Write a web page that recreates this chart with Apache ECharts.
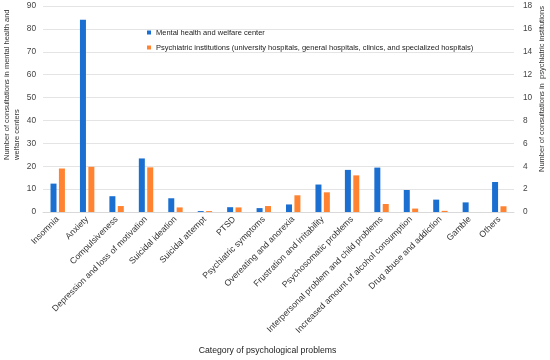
<!DOCTYPE html>
<html>
<head>
<meta charset="utf-8">
<script src="https://cdn.jsdelivr.net/npm/echarts@6/dist/echarts.min.js"></script>
<style>
html,body{margin:0;padding:0;background:#fff;}
#c{width:550px;height:360px;}
</style>
</head>
<body>
<div id="c"></div>
<script>
var categories = ["Insomnia","Anxiety","Compulsiveness","Depression and loss of motivation","Suicidal ideation","Suicidal attempt","PTSD","Psychiatric symptoms","Overeating and anorexia","Frustration and irritability","Psychosomatic problems","Interpersonal problem and child problems","Increased amount of alcohol consumption","Drug abuse and addiction","Gamble","Others"];
var centerValues = [12.4, 84, 6.9, 23.4, 6.0, 0.4, 2.1, 1.7, 3.3, 12.0, 18.4, 19.4, 9.6, 5.4, 4.2, 13.1];
var institutionValues = [3.8, 3.95, 0.52, 3.9, 0.4, 0.08, 0.4, 0.52, 1.46, 1.72, 3.2, 0.7, 0.3, 0.1, 0, 0.5];
var leftTicks = [0,10,20,30,40,50,60,70,80,90];
var rightTicks = [0,2,4,6,8,10,12,14,16,18];
var seriesNames = ["Mental health and welfare center","Psychiatric institutions (university hospitals, general hospitals, clinics, and specialized hospitals)"];
var FONT = "Liberation Sans, Arial, Helvetica, sans-serif";

var chart = echarts.init(document.getElementById('c'));
chart.setOption({
  animation: false,
  textStyle: {fontFamily: FONT},
  grid: {left: 43, right: 36, top: 6, bottom: 147, containLabel: false},
  legend: {
    orient: 'vertical', left: 142, top: 23, itemWidth: 4, itemHeight: 4, itemGap: 6,
    icon: 'rect',
    textStyle: {fontSize: 7.5, color: '#222', lineHeight: 9, fontFamily: FONT},
    data: seriesNames
  },
  xAxis: {
    type: 'category', data: categories,
    axisLine: {lineStyle: {color: '#d9d9d9'}},
    axisTick: {show: false},
    axisLabel: {rotate: 45, fontSize: 8.7, color: '#333', margin: 6, interval: 0, fontFamily: FONT},
    name: 'Category of psychological problems', nameLocation: 'middle', nameGap: 134,
    nameTextStyle: {fontSize: 8.7, color: '#222', padding: [0, 22, 0, 0], fontFamily: FONT}
  },
  yAxis: [
    {type: 'value', min: leftTicks[0], max: leftTicks[leftTicks.length-1], interval: 10,
     axisLine: {show: false}, axisTick: {show: false},
     axisLabel: {fontSize: 8.3, color: '#444', margin: 7, fontFamily: FONT},
     splitLine: {lineStyle: {color: '#e4e4e4'}}},
    {type: 'value', min: rightTicks[0], max: rightTicks[rightTicks.length-1], interval: 2,
     axisLine: {show: false}, axisTick: {show: false},
     axisLabel: {fontSize: 8.3, color: '#444', margin: 9, fontFamily: FONT},
     splitLine: {show: false}}
  ],
  graphic: [
    {type: 'text', x: 11.75, y: 160, rotation: Math.PI/2,
     style: {text: 'Number of consultations in mental health and\nwelfare centers', fontSize: 7.5, lineHeight: 10.5,
             fill: '#333', align: 'left', verticalAlign: 'middle', font: '7.5px ' + FONT}},
    {type: 'text', x: 542, y: 172, rotation: Math.PI/2,
     style: {text: 'Number of consultations in  psychiatric institutions', fontSize: 7.5,
             fill: '#333', align: 'left', verticalAlign: 'middle', font: '7.5px ' + FONT}}
  ],
  series: [
    {name: seriesNames[0], type: 'bar', yAxisIndex: 0, data: centerValues, barWidth: 6, barGap: '40%',
     itemStyle: {color: '#1b6fd1'}},
    {name: seriesNames[1], type: 'bar', yAxisIndex: 1, data: institutionValues, barWidth: 6, barGap: '40%',
     itemStyle: {color: '#ff8330'}}
  ]
});
</script>
</body>
</html>
